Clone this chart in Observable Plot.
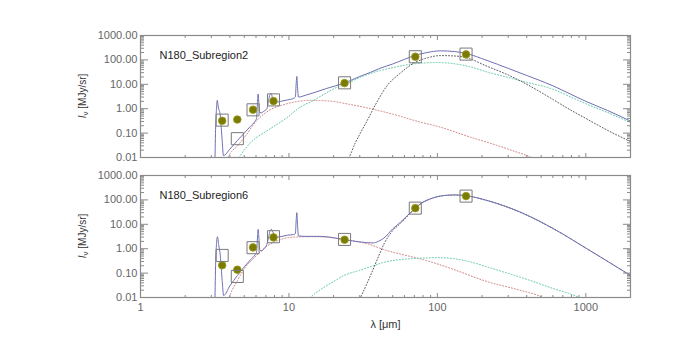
<!DOCTYPE html>
<html><head><meta charset="utf-8">
<script src="https://cdn.jsdelivr.net/npm/d3@7"></script>
<script src="https://cdn.jsdelivr.net/npm/@observablehq/plot@0.6"></script>
<style>
body{margin:0;background:#fff;}
#chart{position:relative;width:700px;height:350px;font-family:"Liberation Sans",Arial,Helvetica,sans-serif;}
#chart svg{display:block;overflow:visible;}
</style></head><body><div id="chart"></div>
<script>
// ---- data ----
const panelNames = ["N180_Subregion2", "N180_Subregion6"];
const bandWavelengths = [3.55, 4.49, 5.73, 7.87, 23.7, 71, 156];
const observed1 = [0.32, 0.36, 0.91, 2.05, 11.2, 135, 168];
const modelBand1 = [0.34, 0.059, 0.9, 2.3, 11.5, 135, 173];
const observed2 = [0.21, 0.138, 1.13, 2.9, 2.34, 46, 143];
const modelBand2 = [0.53, 0.073, 1.1, 3.1, 2.4, 46, 143];

const total1 = [[3.17,0.005],[3.21,0.2],[3.25,1.0],[3.29,2.2],[3.34,1.2],[3.45,0.5],[3.55,0.05],[3.62,0.012],[4.0,0.022],[4.5,0.05],[5.0,0.1],[5.5,0.19],[5.9,0.3],[6.05,0.4],[6.14,1.8],[6.2,4.0],[6.27,1.8],[6.36,0.7],[6.5,0.68],[6.8,0.8],[7.1,1.0],[7.3,2.2],[7.45,3.8],[7.6,4.1],[7.75,2.8],[8.0,2.1],[8.4,1.9],[8.8,2.0],[9.8,2.3],[10.8,2.7],[11.05,3.0],[11.2,12],[11.3,21],[11.42,8],[11.6,3.0],[13,3.6],[15,4.7],[18,6.8],[23.7,11.3],[30,21],[35.5,31],[41,45],[50,68],[60,105],[71,155],[85,200],[105,235],[130,220],[155,185],[216,95],[300,45],[400,23],[600,8.7],[785,4.0],[1000,2.0],[1400,0.85],[2000,0.31]];
const red1 = [[3.8,0.006],[3.9,0.01],[4.5,0.03],[5.0,0.065],[6.0,0.3],[7.0,0.7],[8.0,1.1],[9.0,1.4],[11,1.9],[14,2.2],[19,2.05],[25,1.55],[35.5,1.0],[50,0.6],[77,0.28],[100,0.19],[167,0.068],[250,0.032],[330,0.018],[430,0.01],[480,0.007]];
const teal1 = [[4.4,0.006],[4.62,0.01],[5.5,0.04],[7.2,0.13],[9.8,0.45],[12,1.2],[14,1.9],[17,3.7],[21,7.5],[24,10],[30,19],[35.5,28],[50,48],[71,70],[100,78],[129,70],[167,52],[216,32],[300,19],[400,12],[600,6.3],[785,3.1],[1000,1.6],[1400,0.7],[2000,0.27]];
const gray1 = [[24,0.006],[25.4,0.01],[28,0.04],[30,0.09],[33.7,0.33],[39,1.8],[46,9],[56,28],[71,80],[85,120],[105,150],[130,145],[155,125],[216,55],[300,24],[400,10],[600,2.4],[785,0.9],[1000,0.4],[1400,0.13],[2000,0.045]];

const total2 = [[3.17,0.005],[3.21,0.3],[3.25,1.5],[3.30,3.1],[3.36,1.5],[3.45,0.5],[3.55,0.05],[3.63,0.012],[4.0,0.03],[4.5,0.08],[5.0,0.18],[5.5,0.35],[5.9,0.55],[6.05,0.7],[6.14,3.0],[6.2,6.2],[6.27,3.0],[6.36,0.9],[6.5,0.8],[6.8,1.0],[7.1,1.5],[7.3,3.0],[7.45,5.2],[7.62,6.2],[7.8,4.8],[8.1,3.4],[8.4,3.0],[9.0,3.2],[9.8,3.6],[10.8,3.8],[11.05,4.2],[11.2,16],[11.3,30],[11.42,10],[11.6,3.3],[13,3.2],[16.4,3.2],[20,2.8],[23.5,2.4],[30,1.9],[37,1.72],[40,2.0],[43.6,2.7],[50,6.5],[56.5,12.3],[71,46],[77,70],[90,112],[110,150],[130,160],[155,150],[216,95],[362,31.6],[606,6.6],[1016,1.0],[2000,0.08]];
const red2 = [[3.85,0.006],[4.0,0.012],[4.5,0.05],[5.0,0.15],[6.0,0.5],[7.0,1.2],[8.0,1.9],[9.0,2.5],[11,3.0],[14,3.1],[18,3.0],[23.5,2.3],[33.7,1.6],[45,0.86],[56.5,0.6],[77,0.38],[90,0.29],[129,0.14],[216,0.045],[362,0.0196],[510,0.01],[560,0.007]];
const teal2 = [[13,0.006],[14,0.01],[17,0.025],[20,0.045],[23.5,0.08],[30,0.13],[37,0.2],[44,0.28],[60,0.37],[77,0.41],[100,0.43],[129,0.39],[170,0.28],[216,0.18],[280,0.11],[362,0.068],[480,0.038],[606,0.023],[760,0.015],[900,0.01],[1000,0.007]];
const gray2 = [[29,0.005],[30.4,0.01],[33,0.03],[36,0.1],[40,0.46],[44,1.7],[50,5.5],[56.5,11],[71,45],[77,68],[90,110],[110,150],[130,158],[155,148],[216,94],[362,31],[606,6.5],[1016,1.0],[2000,0.08]];

const xMajorTicks = [1, 10, 100, 1000];
const yMajorTicks = [0.01, 0.1, 1, 10, 100, 1000];
const xMinorTicks = [];
for (const d of [1, 10, 100, 1000]) for (let m = 2; m <= 9; m++) if (d * m <= 2000) xMinorTicks.push(d * m);
const yMinorTicks = [];
for (const d of [0.01, 0.1, 1, 10, 100]) for (let m = 2; m <= 9; m++) yMinorTicks.push(+(d * m).toPrecision(3));

// ---- styles ----
const C = {total:"#7070b4", red:"#d08080", teal:"#5ec8a8", gray:"#5a5a68", obs:"#7b7b00", box:"#7a7a7a", axis:"#8a8a8a", label:"#666"};
const W = 700, H = 175, ML = 140, MR = 70;

function axes(showXLabels) {
  const base = {stroke: C.axis, label: null};
  return [
    Plot.axisY(yMajorTicks, {...base, anchor:"left", tickSize:-8, tickPadding:11, tickFormat: d => d.toFixed(2), fill: C.label, fontSize: 11}),
    Plot.axisY(yMinorTicks, {...base, anchor:"left", tickSize:-4, fill:"none"}),
    Plot.axisY(yMajorTicks, {...base, anchor:"right", tickSize:-8, fill:"none"}),
    Plot.axisY(yMinorTicks, {...base, anchor:"right", tickSize:-4, fill:"none"}),
    Plot.axisX(xMajorTicks, {...base, anchor:"bottom", tickSize:-4, tickPadding:10, tickFormat: d => String(d), fill: showXLabels ? C.label : "none", fontSize: 11}),
    Plot.axisX(xMinorTicks, {...base, anchor:"bottom", tickSize:-2, fill:"none"}),
    Plot.axisX(xMajorTicks, {...base, anchor:"top", tickSize:-4, fill:"none"}),
    Plot.axisX(xMinorTicks, {...base, anchor:"top", tickSize:-2, fill:"none"})
  ];
}

function panel(name, total, red, teal, gray, observed, modelBand, bottom) {
  const mt = bottom ? 0 : 35, mb = bottom ? 53 : 18;
  const lx = d => d[0], ly = d => d[1];
  const dotted = {strokeDasharray:"1,2", strokeWidth:1, clip:true, curve:"monotone-x"};
  const svg = Plot.plot({
    width: W, height: H, marginLeft: ML, marginRight: MR, marginTop: mt, marginBottom: mb,
    style: {background:"transparent", overflow:"visible", fontFamily:'"Liberation Sans",Arial,sans-serif', fontSize:"11px"},
    x: {type:"log", domain:[1, 2000]},
    y: {type:"log", domain:[0.01, 1000]},
    marks: [
      Plot.line(red, {x: lx, y: ly, stroke: C.red, ...dotted}),
      Plot.line(teal, {x: lx, y: ly, stroke: C.teal, ...dotted}),
      Plot.line(gray, {x: lx, y: ly, stroke: C.gray, ...dotted}),
      Plot.line(total, {x: lx, y: ly, stroke: C.total, strokeWidth: 1, clip: true, curve: "monotone-x"}),
      Plot.dot(bandWavelengths, {x: d => d, y: (d, i) => observed[i], r: 3.8, fill: C.obs, stroke: "#9a9a20", strokeWidth: 0.8}),
      Plot.dot(bandWavelengths, {x: d => d, y: (d, i) => modelBand[i], symbol: "square", r: 6.8, fill: "none", stroke: C.box, strokeWidth: 1}),
      Plot.frame({stroke: C.axis, strokeWidth: 1.2}),
      ...axes(bottom),
      Plot.text([name], {text: d => d, frameAnchor: "top-left", dx: 19, dy: 20, textAnchor: "start", lineAnchor: "middle", fill: "#222", fontSize: 11}),
      bottom ? Plot.text(["λ [μm]"], {text: d => d, frameAnchor: "bottom", dy: 27, lineAnchor: "middle", fill: "#333", fontSize: 11}) : null
    ]
  });
  // y-axis title with subscript
  const cy = mt + (H - mt - mb) / 2;
  const t = d3.select(svg).append("text")
    .attr("transform", `translate(${ML - 54},${cy}) rotate(-90)`)
    .attr("text-anchor", "middle").attr("font-size", 10).attr("fill", "#333");
  t.append("tspan").attr("font-style", "italic").text("I");
  t.append("tspan").attr("font-size", 8).attr("dy", 2).text("ν");
  t.append("tspan").attr("dy", -2).text(" [MJy/sr]");
  return svg;
}

const root = document.getElementById("chart");
root.append(panel(panelNames[0], total1, red1, teal1, gray1, observed1, modelBand1, false));
root.append(panel(panelNames[1], total2, red2, teal2, gray2, observed2, modelBand2, true));
</script></body></html>
